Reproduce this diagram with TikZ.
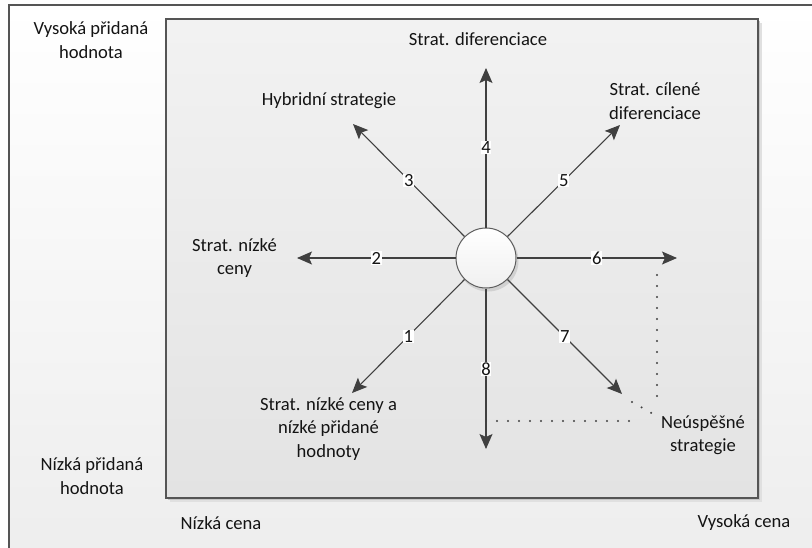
\documentclass[tikz,border=0pt]{standalone}
\usepackage{fontspec}
\setmainfont{Carlito}
\usetikzlibrary{arrows.meta}
\definecolor{edge}{HTML}{404040}
\definecolor{frame}{HTML}{555555}
\definecolor{txtc}{HTML}{141414}
\begin{document}
\begin{tikzpicture}[x=1pt,y=-1pt,
  txt/.style={font=\fontsize{18.6}{23.5}\selectfont, text=txtc, align=center, inner sep=0pt},
  ray/.style={draw=edge, line width=1.1pt, -{Stealth[length=15pt,width=13pt,inset=3pt]}},
  num/.style={fill=white, inner sep=0.6pt, font=\fontsize{18.6}{19}\selectfont, text=txtc},
  dotline/.style={draw=black!75, line width=2.3pt, dash pattern=on 0pt off 11pt, line cap=round}]
\useasboundingbox (0,0) rectangle (812,547);
\clip (0,0) rectangle (812,547);
% outer frame
\shade[top color=white, bottom color=black!7] (9,5) rectangle (830,560);
\draw[frame, line width=1.2pt] (9,560) -- (9,5) -- (830,5);
% inner box with shadow
\fill[black!12] (170,23) rectangle (762,502);
\fill[black!22] (168,21) rectangle (760,500);
\shade[top color=black!5, bottom color=black!11, draw=frame, line width=1.2pt] (166,19) rectangle (758,498);
% centre circle
\fill[black!18] (488,261) circle (30.5);
\node[circle, minimum size=60pt, inner sep=0pt, draw=edge!85, line width=1pt, top color=white, bottom color=black!6] (c) at (486,258) {};
% tips
\coordinate (t1) at (352,393);
\coordinate (t2) at (297,258);
\coordinate (t3) at (353,124);
\coordinate (t4) at (486,68);
\coordinate (t5) at (620,125);
\coordinate (t6) at (677,258);
\coordinate (t7) at (622,394);
\coordinate (t8) at (486,449);
\foreach \i/\a in {1/225,2/180,3/135,4/90,5/45,6/0,7/-45,8/-90}{
  \draw[ray] (c.\a) -- (t\i) node[num, midway] (n\i) {\i};
}
% dotted guides
\coordinate (d6a) at (657,275);
\coordinate (d6b) at (657,397);
\coordinate (d8a) at (486,421);
\coordinate (d8b) at (630,421);
\coordinate (d7a) at (632,402);
\coordinate (d7b) at (655,415);
\draw[dotline] (d6a) -- (d6b);
\draw[dotline] (d8a) -- (d8b);
\draw[dotline] (d7a) -- (d7b);
% labels
\node[txt] (l4) at (478,39) {Strat. diferenciace};
\node[txt] (l3) at (329,101) {Hybridní strategie};
\node[txt] (l5) at (655,101) {Strat. cílené\\diferenciace};
\node[txt] (l2) at (234.5,258) {Strat. nízké\\ceny};
\node[txt] (l1) at (328.5,429) {Strat. nízké ceny a\\nízké přidané\\hodnoty};
\node[txt] (lf) at (703,435) {Neúspěšné\\strategie};
\node[txt] (vh) at (91,40) {Vysoká přidaná\\hodnota};
\node[txt] (nh) at (92,476) {Nízká přidaná\\hodnota};
\node[txt] (nc) at (221,523) {Nízká cena};
\node[txt] (vc) at (744,523) {Vysoká cena};
\end{tikzpicture}
\end{document}
